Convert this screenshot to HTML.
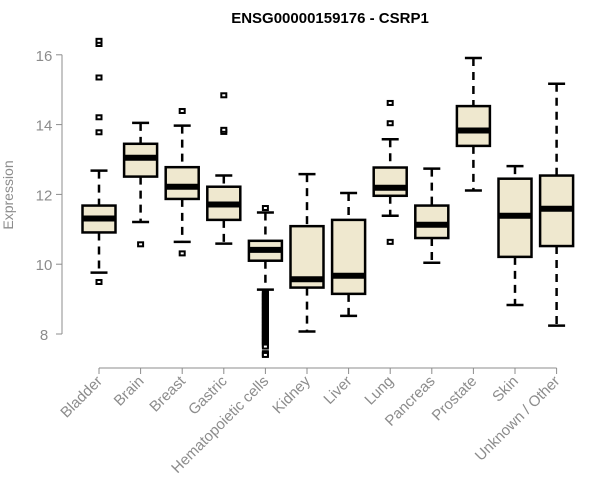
<!DOCTYPE html>
<html><head><meta charset="utf-8"><style>
body{margin:0;background:#fff;}
svg{display:block;font-family:"Liberation Sans",Arial,sans-serif;}
</style></head><body>
<svg id="chart" width="600" height="500" xmlns="http://www.w3.org/2000/svg">
<text x="330" y="23" text-anchor="middle" font-weight="bold" font-size="15" fill="#000">ENSG00000159176 - CSRP1</text>
<text transform="translate(13,195) rotate(-90)" text-anchor="middle" font-size="14" fill="#8c8c8c">Expression</text>
<g id="axes"></g><g id="marks"></g>
</svg>
<script>
const categories=["Bladder","Brain","Breast","Gastric","Hematopoietic cells","Kidney","Liver","Lung","Pancreas","Prostate","Skin","Unknown / Other"];
const whiskerLow=[9.76,11.21,10.64,10.59,9.27,8.07,8.52,11.39,10.04,12.11,8.83,8.24];
const q1=[10.91,12.51,11.87,11.27,10.10,9.33,9.15,11.96,10.75,13.39,10.21,10.52];
const medians=[11.31,13.05,12.22,11.71,10.41,9.57,9.67,12.19,11.13,13.83,11.39,11.59];
const q3=[11.68,13.45,12.78,12.22,10.67,11.09,11.27,12.77,11.68,14.53,12.45,12.54];
const whiskerHigh=[12.68,14.05,13.97,12.54,11.48,12.58,12.04,13.58,12.74,15.91,12.81,15.17];
const outliers=[[9.49,13.78,14.21,15.35,16.31,16.4],[10.57],[10.31,14.39],[13.79,13.85,14.84],[11.61,9.2,9.16,9.12,9.08,9.04,9.0,8.96,8.92,8.88,8.84,8.8,8.76,8.72,8.68,8.64,8.6,8.56,8.52,8.48,8.44,8.4,8.36,8.32,8.28,8.24,8.2,8.16,8.12,8.08,8.04,8.0,7.96,7.92,7.88,7.84,7.8,7.76,7.72,7.68,7.64,7.45,7.42,7.4],[],[],[14.62,14.04,10.64],[],[],[],[]];
const yTicks=[8,10,12,14,16];
const NS="http://www.w3.org/2000/svg";
const y=v=>334-(v-8)*34.9;
const x=i=>99+i*41.6;
function mk(tag,attrs,parent){const e=document.createElementNS(NS,tag);for(const k in attrs)e.setAttribute(k,attrs[k]);parent.appendChild(e);return e;}
const axes=document.getElementById('axes'),marks=document.getElementById('marks');
let a=mk('line',{x1:62,x2:62,y1:y(16),y2:y(8),stroke:'#8c8c8c'},axes);


yTicks.forEach(t=>{
 let l=mk('line',{x1:56,x2:62,y1:y(t),y2:y(t),stroke:'#8c8c8c'},axes);
 
 
 let tx=mk('text',{x:44,y:y(t)+6,'text-anchor':'middle','font-size':15,fill:'#8c8c8c'},axes);tx.textContent=t;
 
 
});
let xa=mk('line',{x1:x(0),x2:x(categories.length-1),y1:368,y2:368,stroke:'#8c8c8c'},axes);


categories.forEach((c,i)=>{
 const cx=x(i);
 let t=mk('line',{x1:cx,x2:cx,y1:368,y2:374,stroke:'#8c8c8c'},axes);
 
 
 let lb=mk('text',{transform:`translate(${cx+4},${382}) rotate(-45)`,'text-anchor':'end','font-size':15,fill:'#8c8c8c'},axes);lb.textContent=c;
 
 
 const g=mk('g',{},marks);
 
 
 const hw=16.5;
 mk('line',{x1:cx,x2:cx,y1:y(whiskerHigh[i]),y2:y(q3[i]),stroke:'#000','stroke-width':2.5,'stroke-dasharray':'8,6'},g);
 mk('line',{x1:cx,x2:cx,y1:y(q1[i]),y2:y(whiskerLow[i]),stroke:'#000','stroke-width':2.5,'stroke-dasharray':'8,6'},g);
 mk('line',{x1:cx-8.5,x2:cx+8.5,y1:y(whiskerHigh[i]),y2:y(whiskerHigh[i]),stroke:'#000','stroke-width':2.5},g);
 mk('line',{x1:cx-8.5,x2:cx+8.5,y1:y(whiskerLow[i]),y2:y(whiskerLow[i]),stroke:'#000','stroke-width':2.5},g);
 mk('rect',{x:cx-hw,y:y(q3[i]),width:hw*2,height:y(q1[i])-y(q3[i]),fill:'#efe8cf',stroke:'#000','stroke-width':2.5},g);
 mk('line',{x1:cx-hw,x2:cx+hw,y1:y(medians[i]),y2:y(medians[i]),stroke:'#000','stroke-width':6},g);
 outliers[i].forEach(v=>{
  let p=mk('rect',{x:cx-2.5,y:y(v)-2,width:5,height:4,fill:'#fff',stroke:'#000','stroke-width':2},g);
  
  
 });
});
</script>
</body></html>
